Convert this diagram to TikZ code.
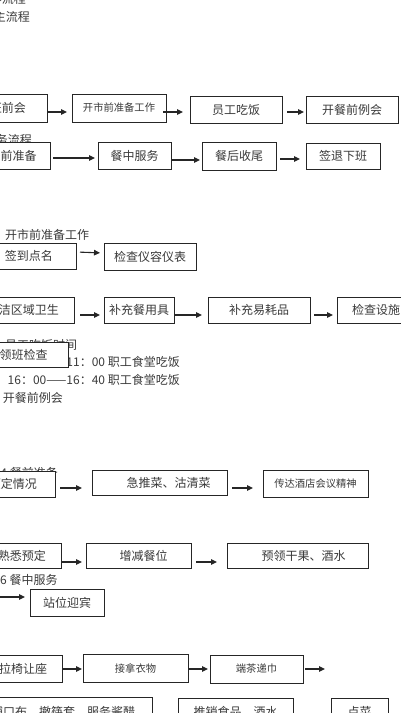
\documentclass[tikz,border=0pt]{standalone}
\usepackage{fontspec}
\setmainfont{Noto Sans CJK SC}
\usetikzlibrary{arrows.meta}
\definecolor{ink}{HTML}{3A3A3A}
\definecolor{edge}{HTML}{262626}
\tikzset{
  box/.style={draw=edge,line width=0.8pt,fill=white,inner sep=0pt,outer sep=0pt,text=ink,font=\fontsize{12}{14}\selectfont},
  small/.style={font=\fontsize{10.3}{12}\selectfont},
  lbl/.style={inner sep=0pt,text=ink,font=\fontsize{12}{14}\selectfont},
  arr/.style={draw=edge,line width=1.1pt,-{Triangle[length=6pt,width=5.5pt]}}
}
\newcommand\mybox[6][]{\node[box,#1,minimum width={(#4-#2)*1pt},minimum height={(#5-#3)*1pt}] (#6) at ({(#2+#4)/2},{(#3+#5)/2})}
\begin{document}
\begin{tikzpicture}[x=1pt,y=-1pt]
\useasboundingbox (0,0) rectangle (400,713);
% background texts (partly hidden by boxes)
\node[lbl,anchor=east] (t1) at (26,-1) {工作流程};
\node[lbl,anchor=east] (t2) at (30,17) {主流程};
\node[lbl,anchor=east] (t3) at (32,140) {服务流程};
\node[lbl,anchor=west] (t4) at (5,235) {开市前准备工作};
\node[lbl,anchor=west] (t5) at (5,345) {员工吃饭时间};
\node[lbl,anchor=east] (t6) at (180,362) {10：30——11：00 职工食堂吃饭};
\node[lbl,anchor=east] (t7) at (180,380) {16：00——16：40 职工食堂吃饭};
\node[lbl,anchor=east] (t8) at (63,398) {3 开餐前例会};
\node[lbl,anchor=east] (t9) at (58,473) {4 餐前准备};
\node[lbl,anchor=west] (t10) at (0,580) {6 餐中服务};
% row 1
\mybox{-31}{94}{47}{122}{r1a} {班前会};
\mybox[small]{72}{94}{166}{122}{r1b} {开市前准备工作};
\mybox{190}{96}{282}{123}{r1c} {员工吃饭};
\mybox{306}{96}{398}{123}{r1d} {开餐前例会};
% row 2
\mybox{-25}{142}{50}{169}{r2a} {餐前准备};
\mybox{98}{142}{171}{169}{r2b} {餐中服务};
\mybox{202}{142}{276}{170}{r2c} {餐后收尾};
\mybox{306}{143}{380}{169}{r2d} {签退下班};
% row 3
\mybox{-18}{243}{76}{269}{r3a} {签到点名};
\mybox{104}{243}{196}{270}{r3b} {检查仪容仪表};
% row 4
\mybox{-28}{297}{74}{323}{r4a} {清洁区域卫生};
\mybox{104}{297}{174}{323}{r4b} {补充餐用具};
\mybox{208}{297}{310}{323}{r4c} {补充易耗品};
\mybox{337}{297}{415}{323}{r4d} {检查设施};
% row 5
\mybox{-21}{342}{68}{367}{r5a} {领班检查};
% row 6
\mybox{-29}{471}{55}{497}{r6a} {预定情况};
\mybox{92}{470}{227}{495}{r6b} {\hspace{18pt}急推菜、沽清菜};
\mybox[small]{263}{470}{368}{497}{r6c} {传达酒店会议精神};
% row 7
\mybox{-17}{543}{61}{568}{r7a} {熟悉预定};
\mybox{86}{543}{191}{568}{r7b} {\hspace{10pt}增减餐位};
\mybox{227}{543}{368}{568}{r7c} {\hspace{12pt}预领干果、酒水};
\mybox{30}{589}{104}{616}{r7d} {站位迎宾};
% row 8
\mybox{-16}{655}{62}{682}{r8a} {拉椅让座};
\mybox[small]{83}{654}{188}{682}{r8b} {接拿衣物};
\mybox[small]{210}{655}{303}{683}{r8c} {端茶递巾};
% row 9
\mybox{-26}{697}{152}{726}{r9a} {铺口布、撤筷套、服务酱醋};
\mybox{178}{698}{293}{726}{r9b} {推销食品、酒水};
\mybox{331}{698}{388}{726}{r9c} {点菜};
% free ends
\coordinate (s7) at (-5,597);
\coordinate (e8) at (325,669);
% arrows
\draw[arr,shorten >=5pt] ([yshift=-4pt]r1a.east) -- ([yshift=-4pt]r1b.west);
\draw[arr,shorten <=-3pt,shorten >=7pt] ([yshift=-4pt]r1b.east) -- ([yshift=-2.5pt]r1c.west);
\draw[arr,shorten <=5pt,shorten >=2pt] ([yshift=-2.5pt]r1c.east) -- ([yshift=-2.5pt]r1d.west);
\draw[arr,shorten <=3pt,shorten >=3pt] ([yshift=-2.5pt]r2a.east) -- ([yshift=-2.5pt]r2b.west);
\draw[arr,shorten >=2pt] ([yshift=-4.5pt]r2b.east) -- ([yshift=-4pt]r2c.west);
\draw[arr,shorten <=4pt,shorten >=6pt] ([yshift=-3pt]r2c.east) -- ([yshift=-3pt]r2d.west);
\draw[arr,shorten <=4pt,shorten >=4pt] ([yshift=4pt]r3a.east) -- ([yshift=3.5pt]r3b.west);
\draw[arr,shorten <=6pt,shorten >=4pt] ([yshift=-5pt]r4a.east) -- ([yshift=-5pt]r4b.west);
\draw[arr,shorten >=6pt] ([yshift=-5pt]r4b.east) -- ([yshift=-5pt]r4c.west);
\draw[arr,shorten <=4pt,shorten >=4pt] ([yshift=-5pt]r4c.east) -- ([yshift=-5pt]r4d.west);
\draw[arr,shorten <=5pt,shorten >=10pt] ([yshift=-4pt]r6a.east) -- ([yshift=-5.5pt]r6b.west);
\draw[arr,shorten <=5pt,shorten >=10pt] ([yshift=-5.5pt]r6b.east) -- ([yshift=-4.5pt]r6c.west);
\draw[arr,shorten <=1pt,shorten >=4pt] ([yshift=-6.5pt]r7a.east) -- ([yshift=-6.5pt]r7b.west);
\draw[arr,shorten <=5pt,shorten >=10pt] ([yshift=-6.5pt]r7b.east) -- ([yshift=-6.5pt]r7c.west);
\draw[arr,shorten >=5pt] (s7) -- (s7 -| r7d.west);
\draw[arr,shorten >=1pt] ([yshift=-0.5pt]r8a.east) -- ([yshift=-1pt]r8b.west);
\draw[arr,shorten >=2pt] ([yshift=-1pt]r8b.east) -- ([yshift=-0pt]r8c.west);
\draw[arr,shorten <=2pt] ([yshift=0pt]r8c.east) -- (e8);
\end{tikzpicture}
\end{document}
